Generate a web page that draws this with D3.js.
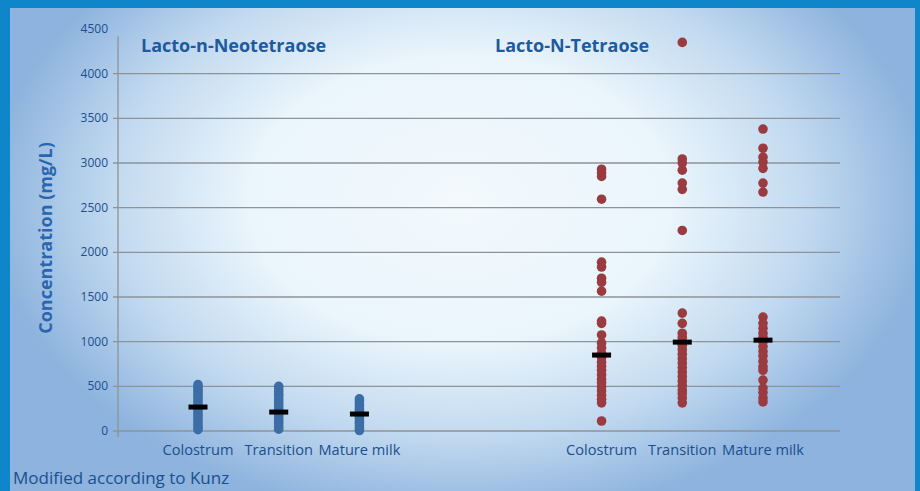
<!DOCTYPE html>
<html>
<head>
<meta charset="utf-8">
<title>Lacto-N-Tetraose</title>
<script src="https://d3js.org/d3.v7.min.js"></script>
<style>
    html, body { margin: 0; padding: 0; background: #0e86c9; }
    svg { display: block; font-family: "Open Sans", "Noto Sans", sans-serif; }
    .tick-label { fill: #1b4f8e; font-size: 12px; }
    .cat-label { fill: #1b4f8e; font-size: 14.6px; }
    .group-title { fill: #1e5a9e; font-size: 18px; font-weight: bold; }
</style>
</head>
<body>
<svg id="chart" width="920" height="491"></svg>
<script>
// values (mg/L)
const groups = ["Lacto-n-Neotetraose", "Lacto-N-Tetraose"];
const stages = ["Colostrum", "Transition", "Mature milk"];
const yTicks = [0, 500, 1000, 1500, 2000, 2500, 3000, 3500, 4000, 4500];

const lnntColostrum = [520, 495, 470, 445, 415, 390, 360, 330, 300, 275, 245, 215, 185, 160, 130, 100, 70, 40, 15];
const lnntTransition = [500, 470, 440, 410, 385, 350, 320, 290, 260, 230, 200, 170, 140, 110, 80, 50, 20];
const lnntMature = [360, 335, 305, 280, 250, 225, 195, 165, 140, 110, 85, 55, 25, 5];
const lnntMedians = [268, 212, 190];

const lntColostrum = [2930, 2890, 2850, 2595, 1890, 1835, 1710, 1665, 1565, 1230, 1205, 1075, 985, 930, 870, 820, 770, 725, 680, 630, 580, 540, 495, 450, 400, 355, 315, 112];
const lntTransition = [4350, 3045, 3000, 2920, 2775, 2705, 2245, 1320, 1205, 1095, 1050, 1000, 960, 910, 860, 810, 760, 710, 660, 610, 560, 510, 460, 420, 370, 315];
const lntMature = [3380, 3165, 3065, 3010, 2940, 2775, 2675, 1275, 1205, 1150, 1095, 1050, 1000, 945, 890, 840, 780, 720, 680, 570, 480, 430, 370, 325];
const lntMedians = [850, 995, 1017];

const series = [
    { key: "a0", group: 0, stage: 0, values: lnntColostrum, median: lnntMedians[0] },
    { key: "a1", group: 0, stage: 1, values: lnntTransition, median: lnntMedians[1] },
    { key: "a2", group: 0, stage: 2, values: lnntMature, median: lnntMedians[2] },
    { key: "b0", group: 1, stage: 0, values: lntColostrum, median: lntMedians[0] },
    { key: "b1", group: 1, stage: 1, values: lntTransition, median: lntMedians[1] },
    { key: "b2", group: 1, stage: 2, values: lntMature, median: lntMedians[2] }
];
const dotColors = ["#3c6ea6", "#9a3b40"];

const svg = d3.select("#chart");

// frame and background
const defs = svg.append("defs");
const grad = defs.append("radialGradient")
    .attr("id", "bg")
    .attr("gradientUnits", "userSpaceOnUse")
    .attr("cx", 0).attr("cy", 0).attr("r", 1)
    .attr("gradientTransform", "translate(460,200) scale(470,320)");
grad.append("stop").attr("offset", 0).attr("stop-color", "#f3f9fd");
grad.append("stop").attr("offset", 0.45).attr("stop-color", "#eaf5fc");
grad.append("stop").attr("offset", 0.75).attr("stop-color", "#c0d8ef");
grad.append("stop").attr("offset", 1).attr("stop-color", "#8db3de");

svg.append("rect").attr("width", 920).attr("height", 491).attr("fill", "#0e86c9");
svg.append("rect").attr("x", 10).attr("y", 8).attr("width", 905).attr("height", 483).attr("fill", "url(#bg)");

// scales
const xDomain = ["a0", "a1", "a2", "gap1", "gap2", "b0", "b1", "b2"];
const x = d3.scalePoint().domain(xDomain).range([198, 763]);
const y = d3.scaleLinear().domain([0, 4500]).range([431, 29]);

// grid lines
svg.append("g")
    .selectAll("line")
    .data(yTicks.filter(t => t < 4500))
    .join("line")
    .attr("x1", 113).attr("x2", 840)
    .attr("y1", d => y(d)).attr("y2", d => y(d))
    .attr("stroke", "#8c9399")
    .attr("stroke-width", 1.3);

// y axis line
svg.append("line")
    .attr("x1", 118).attr("x2", 118)
    .attr("y1", y(4420)).attr("y2", y(0) + 6)
    .attr("stroke", "#8c9399")
    .attr("stroke-width", 1.3);

svg.append("g")
    .selectAll("text")
    .data(yTicks)
    .join("text")
    .attr("class", "tick-label")
    .attr("x", 108)
    .attr("y", d => y(d) + 4)
    .attr("text-anchor", "end")
    .text(d => d);

svg.append("text")
    .attr("transform", "translate(52,238) rotate(-90)")
    .attr("text-anchor", "middle")
    .attr("fill", "#2a66ad")
    .attr("font-size", "18px")
    .attr("font-weight", "bold")
    .text("Concentration (mg/L)");

// group titles
svg.append("g")
    .selectAll("text")
    .data(groups)
    .join("text")
    .attr("class", "group-title")
    .attr("x", (d, i) => i === 0 ? 141 : 495)
    .attr("y", 52)
    .text(d => d);

// category labels
svg.append("g")
    .selectAll("text")
    .data(series)
    .join("text")
    .attr("class", "cat-label")
    .attr("x", d => x(d.key))
    .attr("y", 455)
    .attr("text-anchor", "middle")
    .text(d => stages[d.stage]);

// dots
const cols = svg.append("g")
    .selectAll("g")
    .data(series)
    .join("g");

cols.selectAll("circle")
    .data(d => d.values.map(v => ({ v: v, s: d })))
    .join("circle")
    .attr("cx", d => x(d.s.key))
    .attr("cy", d => y(d.v))
    .attr("r", 4.8)
    .attr("fill", d => dotColors[d.s.group]);

// median bars
cols.append("rect")
    .attr("x", d => x(d.key) - 9.5)
    .attr("y", d => y(d.median) - 2.5)
    .attr("width", 19)
    .attr("height", 5)
    .attr("fill", "#000");

svg.append("text")
    .attr("x", 13)
    .attr("y", 484)
    .attr("fill", "#1b4f8e")
    .attr("font-size", "17px")
    .text("Modified according to Kunz");
</script>
</body>
</html>
